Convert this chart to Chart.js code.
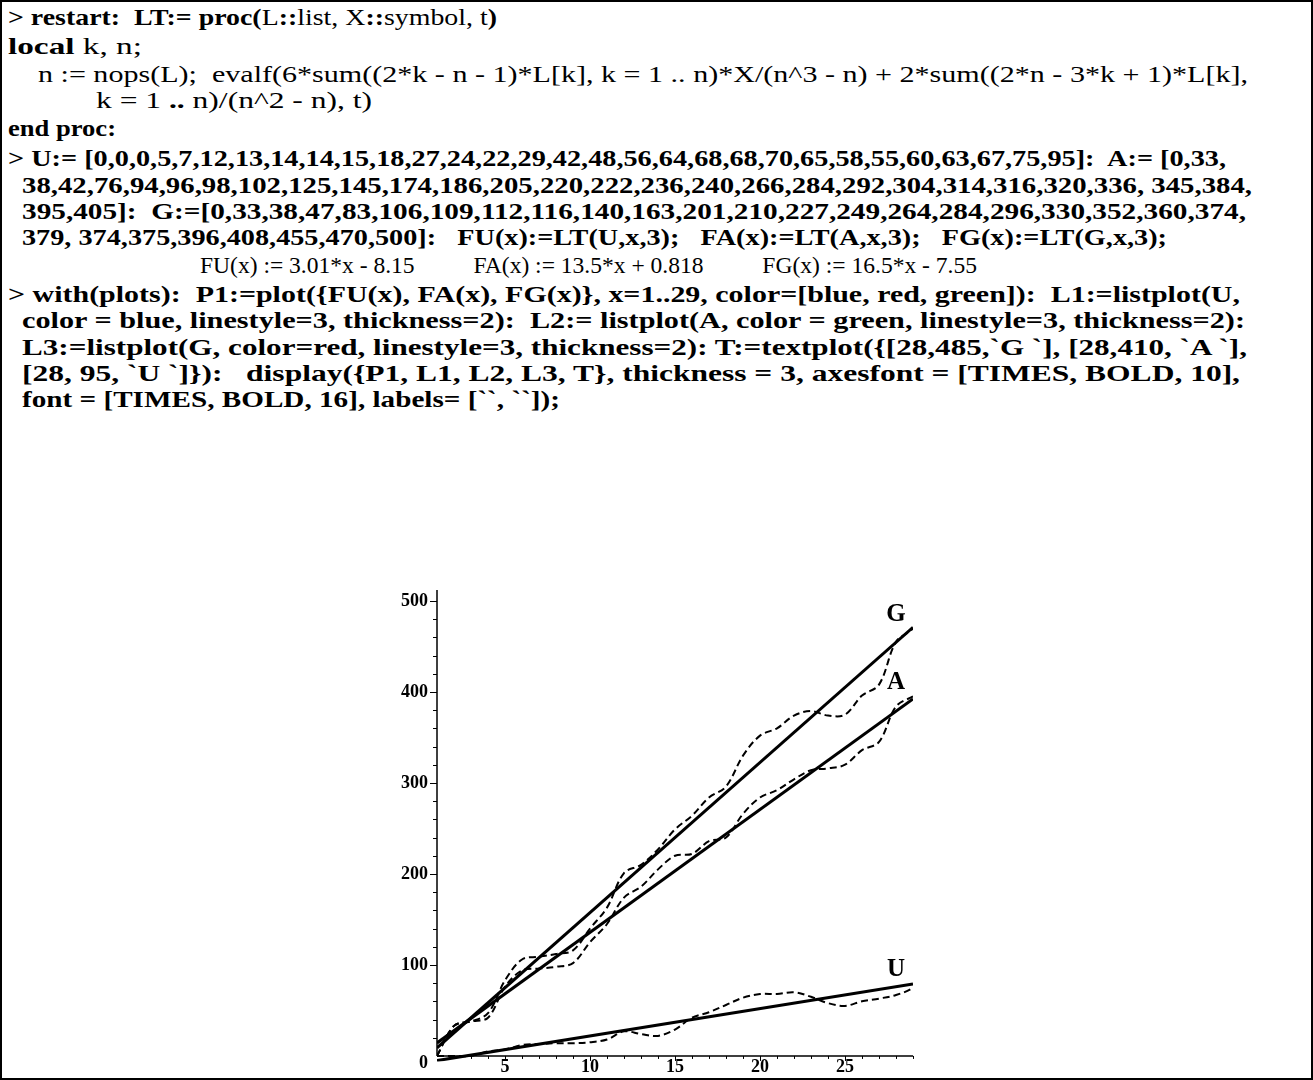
<!DOCTYPE html>
<html>
<head>
<meta charset="utf-8">
<script src="https://cdn.jsdelivr.net/npm/chart.js@4.4.1/dist/chart.umd.min.js"></script>
<style>
  html, body { margin: 0; padding: 0; background: #ffffff; }
  #page { position: relative; width: 1313px; height: 1080px; overflow: hidden; background: #fff; }
  #frame { position: absolute; left: 0; top: 0; width: 1313px; height: 1080px; box-sizing: border-box; border: 2px solid #000; }
  .ln { position: absolute; white-space: pre; font-family: "Liberation Serif", "Times New Roman", serif;
        font-size: 22.5px; line-height: 26px; color: #000; transform-origin: 0 50%; }
  .ln b { font-weight: bold; }
  #plot { position: absolute; left: 380px; top: 570px; }
</style>
</head>
<body>
<div id="page">
  <div id="frame"></div>
  <div class="ln" data-l="8"   data-r="497"  data-y="18"><b>&gt; restart:  LT:= proc(</b>L<b>::</b>list, X<b>::</b>symbol, t<b>)</b></div>
  <div class="ln" data-l="8"   data-r="142"  data-y="47"><b>local</b> k, n;</div>
  <div class="ln" data-l="38"  data-r="1248" data-y="75">n := nops(L);  evalf(6*sum((2*k - n - 1)*L[k], k = 1 .. n)*X/(n^3 - n) + 2*sum((2*n - 3*k + 1)*L[k],</div>
  <div class="ln" data-l="96"  data-r="372"  data-y="101">k = 1 <b>..</b> n)/(n^2 - n), t)</div>
  <div class="ln" data-l="8"   data-r="116"  data-y="129"><b>end proc:</b></div>
  <div class="ln" data-l="8"   data-r="1226" data-y="159"><b>&gt; U:= [0,0,0,5,7,12,13,14,14,15,18,27,24,22,29,42,48,56,64,68,68,70,65,58,55,60,63,67,75,95]:  A:= [0,33,</b></div>
  <div class="ln" data-l="22"  data-r="1252" data-y="186"><b>38,42,76,94,96,98,102,125,145,174,186,205,220,222,236,240,266,284,292,304,314,316,320,336, 345,384,</b></div>
  <div class="ln" data-l="22"  data-r="1246" data-y="212"><b>395,405]:  G:=[0,33,38,47,83,106,109,112,116,140,163,201,210,227,249,264,284,296,330,352,360,374,</b></div>
  <div class="ln" data-l="22"  data-r="1167" data-y="238"><b>379, 374,375,396,408,455,470,500]:   FU(x):=LT(U,x,3);   FA(x):=LT(A,x,3);   FG(x):=LT(G,x,3);</b></div>
  <div class="ln" data-l="200" data-r="977"  data-y="266">FU(x) := 3.01*x - 8.15          FA(x) := 13.5*x + 0.818          FG(x) := 16.5*x - 7.55</div>
  <div class="ln" data-l="8"   data-r="1240" data-y="295"><b>&gt; with(plots):  P1:=plot({FU(x), FA(x), FG(x)}, x=1..29, color=[blue, red, green]):  L1:=listplot(U,</b></div>
  <div class="ln" data-l="22"  data-r="1245" data-y="321"><b>color = blue, linestyle=3, thickness=2):  L2:= listplot(A, color = green, linestyle=3, thickness=2):</b></div>
  <div class="ln" data-l="22"  data-r="1247" data-y="348"><b>L3:=listplot(G, color=red, linestyle=3, thickness=2): T:=textplot({[28,485,`G `], [28,410, `A `],</b></div>
  <div class="ln" data-l="22"  data-r="1240" data-y="374"><b>[28, 95, `U `]}):   display({P1, L1, L2, L3, T}, thickness = 3, axesfont = [TIMES, BOLD, 10],</b></div>
  <div class="ln" data-l="22"  data-r="560"  data-y="400"><b>font = [TIMES, BOLD, 16], labels= [``, ``]);</b></div>
  <canvas id="plot" width="560" height="510"></canvas>
</div>
<script>
// Observations, one value per index k = 1..30
const U = [0,0,0,5,7,12,13,14,14,15,18,27,24,22,29,42,48,56,64,68,68,70,65,58,55,60,63,67,75,95];
const A = [0,33,38,42,76,94,96,98,102,125,145,174,186,205,220,222,236,240,266,284,292,304,314,316,320,336,345,384,395,405];
const G = [0,33,38,47,83,106,109,112,116,140,163,201,210,227,249,264,284,296,330,352,360,374,379,374,375,396,408,455,470,500];

// Least-squares lines FU, FA, FG: slope and intercept
const fitSlope = [3.01, 13.5, 16.5];
const fitIntercept = [-8.15, 0.818, -7.55];
const fitRange = [1, 29];

// Axis ticks
const xTickLabels = [5, 10, 15, 20, 25];
const yTickLabels = [0, 100, 200, 300, 400, 500];

// Text marks placed at data coordinates
const labelText = ['G', 'A', 'U'];
const labelX = [28, 28, 28];
const labelY = [485, 410, 95];

// Stretch each worksheet line to its column span
document.querySelectorAll('.ln').forEach(el => {
  const l = +el.dataset.l, r = +el.dataset.r, y = +el.dataset.y;
  el.style.left = l + 'px';
  el.style.top = (y - 13) + 'px';
  const w = el.getBoundingClientRect().width;
  el.style.transform = 'scaleX(' + ((r - l) / w) + ')';
});

const toPoints = arr => arr.map((v, i) => ({ x: i + 1, y: v }));
const fitPoints = i => fitRange.map(x => ({ x: x, y: fitSlope[i] * x + fitIntercept[i] }));

const dashed = data => ({
  data: data, showLine: true, borderColor: '#000', borderWidth: 2,
  borderDash: [7, 4], pointRadius: 0, tension: 0.35, fill: false, clip: 0
});
const solid = data => ({
  data: data, showLine: true, borderColor: '#000', borderWidth: 3,
  pointRadius: 0, tension: 0, fill: false, clip: 0
});

const mapleAxes = {
  id: 'mapleAxes',
  afterDatasetsDraw(chart) {
    const ctx = chart.ctx, sx = chart.scales.x, sy = chart.scales.y;
    const x0 = sx.getPixelForValue(sx.min), x1 = sx.getPixelForValue(sx.max);
    const y0 = sy.getPixelForValue(0), yTop = chart.chartArea.top;
    ctx.save();
    ctx.strokeStyle = '#000';
    ctx.lineWidth = 1.5;
    ctx.beginPath();
    ctx.moveTo(x0, y0); ctx.lineTo(x0, yTop);
    ctx.moveTo(x0, y0); ctx.lineTo(x1, y0);
    ctx.stroke();
    ctx.lineWidth = 1;
    ctx.beginPath();
    for (let v = 20; v <= 500; v += 20) {
      const p = Math.round(sy.getPixelForValue(v)) + 0.5;
      const len = v % 100 === 0 ? 7 : 4;
      ctx.moveTo(x0, p); ctx.lineTo(x0 - len, p);
    }
    for (let v = 2; v <= 29; v++) {
      const p = Math.round(sx.getPixelForValue(v)) + 0.5;
      const len = v % 5 === 0 ? 5 : 3;
      ctx.moveTo(p, y0); ctx.lineTo(p, y0 + len);
    }
    ctx.stroke();
    ctx.fillStyle = '#000';
    ctx.font = 'bold 18px "Liberation Serif", serif';
    ctx.textAlign = 'right';
    ctx.textBaseline = 'middle';
    yTickLabels.forEach(v => {
      const p = sy.getPixelForValue(v) + (v === 0 ? 7 : 0);
      ctx.fillText(String(v), x0 - 9, p);
    });
    ctx.textAlign = 'center';
    ctx.textBaseline = 'top';
    xTickLabels.forEach(v => {
      ctx.fillText(String(v), sx.getPixelForValue(v), y0 + 2);
    });
    ctx.font = 'bold 25px "Liberation Serif", serif';
    ctx.textBaseline = 'middle';
    labelText.forEach((t, i) => {
      ctx.fillText(t, sx.getPixelForValue(labelX[i]), sy.getPixelForValue(labelY[i]));
    });
    ctx.restore();
  }
};

new Chart(document.getElementById('plot'), {
  type: 'scatter',
  data: {
    datasets: [
      solid(fitPoints(0)), solid(fitPoints(1)), solid(fitPoints(2)),
      dashed(toPoints(U)), dashed(toPoints(A)), dashed(toPoints(G))
    ]
  },
  options: {
    responsive: false,
    animation: false,
    devicePixelRatio: 1,
    layout: { padding: { left: 57, right: 27, top: 20, bottom: 18.6 } },
    plugins: { legend: { display: false }, tooltip: { enabled: false } },
    scales: {
      x: { type: 'linear', min: 1, max: 29, display: false },
      y: { type: 'linear', min: -6, max: 512, display: false }
    }
  },
  plugins: [mapleAxes]
});
</script>
</body>
</html>
